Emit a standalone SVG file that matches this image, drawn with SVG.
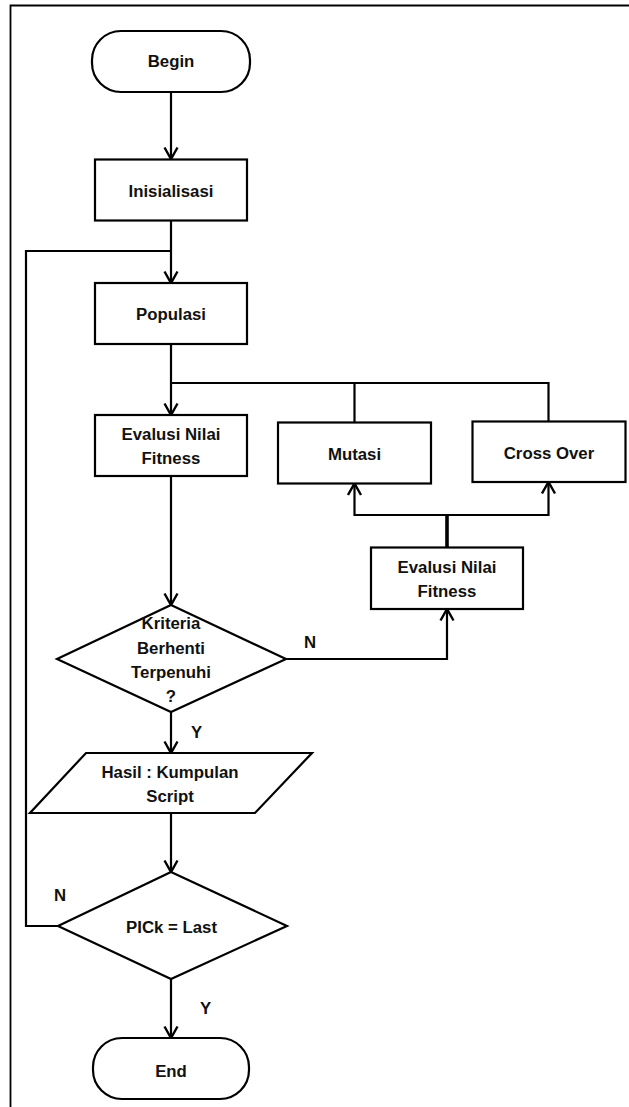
<svg xmlns="http://www.w3.org/2000/svg" width="629" height="1107" viewBox="0 0 629 1107">
<style>
.node{fill:#fff;stroke:#000;stroke-width:2.2}
.t{font-family:"Liberation Sans",Arial,sans-serif;font-weight:bold;font-size:16.8px;fill:#111;text-anchor:middle}
.lbl{font-family:"Liberation Sans",Arial,sans-serif;font-weight:bold;font-size:16.8px;fill:#111}
.c{fill:none;stroke:#000;stroke-width:2.2}
.frame{fill:none;stroke:#000;stroke-width:1.8}
</style>
<defs>
<marker id="arr" markerUnits="userSpaceOnUse" markerWidth="16" markerHeight="16" viewBox="0 0 16 16" refX="13" refY="8" orient="auto">
<path d="M1.5,1.5 L13,8 L1.5,14.5" fill="none" stroke="#000" stroke-width="2.4"/>
</marker>
</defs>
<rect width="629" height="1107" fill="#fff"/>
<g id="frame">
<path class="frame" d="M10.5,1107 V5.5 H629"/>
</g>
<g id="connectors">
<path class="c" d="M171,92 V159" marker-end="url(#arr)"/>
<path class="c" d="M171,221 V283" marker-end="url(#arr)"/>
<path class="c" d="M58,926 H26 V251 H171"/>
<path class="c" d="M171,344 V415" marker-end="url(#arr)"/>
<path class="c" d="M171,383 H548.5 V421.5 M354.5,383 V422.5"/>
<path class="c" d="M171,476 V605" marker-end="url(#arr)"/>
<path class="c" d="M447,547.5 V515" style="stroke-width:3.6"/>
<path class="c" d="M447,515 H354.5 V483.5" marker-end="url(#arr)"/>
<path class="c" d="M447,515 H548.5 V482" marker-end="url(#arr)"/>
<path class="c" d="M286,659 H447 V609" marker-end="url(#arr)"/>
<path class="c" d="M171,712 V753" marker-end="url(#arr)"/>
<path class="c" d="M171,813 V872" marker-end="url(#arr)"/>
<path class="c" d="M171,979 V1038" marker-end="url(#arr)"/>
<text class="lbl" x="304" y="648">N</text>
<text class="lbl" x="191" y="738">Y</text>
<text class="lbl" x="54" y="901">N</text>
<text class="lbl" x="200" y="1014">Y</text>
</g>
<g id="begin">
<rect class="node" x="92" y="31" width="158" height="61" rx="29"/>
<text class="t" x="171" y="67">Begin</text>
</g>
<g id="inisialisasi">
<rect class="node" x="95" y="159.5" width="152" height="61"/>
<text class="t" x="171" y="197">Inisialisasi</text>
</g>
<g id="populasi">
<rect class="node" x="95" y="283" width="152" height="61"/>
<text class="t" x="171" y="320">Populasi</text>
</g>
<g id="evaluasi1">
<rect class="node" x="95" y="415" width="152" height="61"/>
<text class="t" x="171" y="440">Evalusi Nilai</text>
<text class="t" x="171" y="464">Fitness</text>
</g>
<g id="mutasi">
<rect class="node" x="278" y="422.5" width="153" height="61"/>
<text class="t" x="354.5" y="460">Mutasi</text>
</g>
<g id="crossover">
<rect class="node" x="472.5" y="421.5" width="153" height="60.5"/>
<text class="t" x="549" y="459">Cross Over</text>
</g>
<g id="evaluasi2">
<rect class="node" x="371" y="547.5" width="152" height="61.5"/>
<text class="t" x="447" y="573">Evalusi Nilai</text>
<text class="t" x="447" y="597">Fitness</text>
</g>
<g id="kriteria">
<polygon class="node" points="171,605 286,659 171,712 57,659"/>
<text class="t" x="171" y="629">Kriteria</text>
<text class="t" x="171" y="654">Berhenti</text>
<text class="t" x="171" y="678">Terpenuhi</text>
<text class="t" x="171" y="702">?</text>
</g>
<g id="hasil">
<polygon class="node" points="86,753 312,753 255,813 30,813"/>
<text class="t" x="170" y="778">Hasil : Kumpulan</text>
<text class="t" x="170" y="802">Script</text>
</g>
<g id="pick">
<polygon class="node" points="171,872 287,926 171,979 58,926"/>
<text class="t" x="171.5" y="933">PICk = Last</text>
</g>
<g id="end">
<rect class="node" x="93" y="1038" width="156" height="61" rx="29"/>
<text class="t" x="171" y="1077">End</text>
</g>
</svg>
